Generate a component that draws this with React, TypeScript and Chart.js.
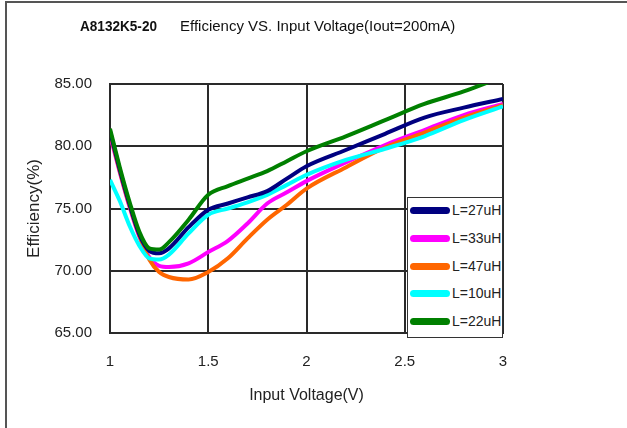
import React, { useEffect, useRef } from "react";
import { Chart, registerables } from "chart.js";

Chart.register(...registerables);

// ---- data ----
const voltages = [1.0, 1.05, 1.1, 1.15, 1.2, 1.25, 1.3, 1.4, 1.5, 1.6, 1.7, 1.8, 1.9, 2.0, 2.2, 2.4, 2.6, 2.8, 3.0];
const eff27uH = [81.2, 78.1, 75.3, 72.9, 71.6, 71.4, 71.8, 73.5, 74.9, 75.4, 75.9, 76.4, 77.4, 78.4, 79.7, 81.0, 82.3, 83.1, 83.8];
const eff33uH = [80.9, 77.9, 75.1, 72.7, 71.1, 70.4, 70.3, 70.6, 71.5, 72.4, 73.8, 75.4, 76.3, 77.2, 78.7, 80.1, 81.3, 82.5, 83.4];
const eff47uH = [81.1, 78.0, 75.2, 72.8, 70.9, 69.9, 69.5, 69.3, 69.9, 71.0, 72.6, 74.1, 75.3, 76.6, 78.3, 79.9, 81.1, 82.3, 83.3];
const eff10uH = [77.3, 75.6, 73.6, 72.0, 71.0, 70.9, 71.3, 73.0, 74.5, 75.0, 75.5, 76.1, 76.9, 77.7, 78.9, 79.8, 80.8, 82.1, 83.2];
const eff22uH = [81.4, 78.3, 75.5, 73.1, 71.8, 71.7, 72.3, 74.1, 76.1, 76.8, 77.4, 78.0, 78.8, 79.6, 80.8, 82.1, 83.4, 84.4, 85.6];

const seriesLabels = ["L=27uH", "L=33uH", "L=47uH", "L=10uH", "L=22uH"];
const seriesValues = [eff27uH, eff33uH, eff47uH, eff10uH, eff22uH];
const seriesColors = ["#000080", "#ff00ff", "#ff6600", "#00ffff", "#008000"];
// drawing order (first = on top)
const drawOrder = [4, 0, 3, 2, 1];

const xTicks = [1, 1.5, 2, 2.5, 3];
const yTicks = [65, 70, 75, 80, 85];

const titleModel = "A8132K5-20";
const titleText = "Efficiency VS. Input Voltage(Iout=200mA)";
const xTitle = "Input Voltage(V)";
const yTitle = "Efficiency(%)";

const FONT = "'Liberation Sans', Arial, sans-serif";

export default function App() {
  const canvasRef = useRef<HTMLCanvasElement | null>(null);

  useEffect(() => {
    const canvas = canvasRef.current;
    if (!canvas) return;
    const datasets = drawOrder.map((idx) => ({
      label: seriesLabels[idx],
      data: voltages.map((v, i) => ({ x: v, y: seriesValues[idx][i] })),
      borderColor: seriesColors[idx],
      backgroundColor: seriesColors[idx],
      borderWidth: 4,
      pointRadius: 0,
      cubicInterpolationMode: "monotone" as const,
      fill: false,
    }));
    const chart = new Chart(canvas, {
      type: "line",
      data: { datasets },
      options: {
        animation: false,
        responsive: false,
        layout: { padding: { left: 0, right: 124, top: 84, bottom: 0 } },
        plugins: {
          legend: { display: false },
          tooltip: { enabled: false },
          title: { display: false },
        },
        scales: {
          x: {
            type: "linear",
            min: 1,
            max: 3,
            afterFit: (s: any) => {
              s.height = 95;
            },
            afterBuildTicks: (s: any) => {
              s.ticks = xTicks.map((v) => ({ value: v }));
            },
            ticks: {
              padding: 20,
              autoSkip: false,
              maxRotation: 0,
              color: "#222",
              font: { family: FONT, size: 15 },
              callback: (v: any) => String(v),
            },
            grid: { color: "#2a2a2a", lineWidth: 2, drawTicks: false },
            border: { display: true, color: "#2a2a2a", width: 2 },
            title: {
              display: true,
              text: xTitle,
              color: "#222",
              font: { family: FONT, size: 16 },
              padding: { top: 0, bottom: 23 },
            },
          },
          y: {
            type: "linear",
            min: 65,
            max: 85,
            afterFit: (s: any) => {
              s.width = 110;
            },
            afterBuildTicks: (s: any) => {
              s.ticks = yTicks.map((v) => ({ value: v }));
            },
            ticks: {
              padding: 18,
              color: "#222",
              font: { family: FONT, size: 15 },
              callback: (v: any) => Number(v).toFixed(2),
            },
            grid: { color: "#2a2a2a", lineWidth: 2, drawTicks: false },
            border: { display: true, color: "#2a2a2a", width: 2 },
            title: {
              display: true,
              text: yTitle,
              color: "#222",
              font: { family: FONT, size: 17 },
              padding: { top: 24, bottom: 0 },
            },
          },
        },
      },
    });
    return () => chart.destroy();
  }, []);

  const legendCenters = [13, 41, 69, 96, 124];

  return (
    <div
      style={{
        position: "absolute",
        left: 0,
        top: 0,
        width: 627,
        height: 428,
        background: "#fff",
        overflow: "hidden",
        fontFamily: FONT,
      }}
    >
      <div
        style={{
          position: "absolute",
          left: 5,
          top: 1,
          width: 640,
          height: 440,
          borderLeft: "2px solid #555",
          borderTop: "2px solid #555",
        }}
      />
      <canvas ref={canvasRef} width={627} height={428} style={{ position: "absolute", left: 0, top: 0, display: "block" }} />
      <div
        style={{
          position: "absolute",
          left: 80,
          top: 18,
          fontSize: 15.5,
          lineHeight: "15.5px",
          fontWeight: "bold",
          color: "#111",
          whiteSpace: "nowrap",
          transform: "scaleX(0.876)",
          transformOrigin: "left center",
        }}
      >
        {titleModel}
      </div>
      <div
        style={{
          position: "absolute",
          left: 180,
          top: 18,
          fontSize: 15,
          lineHeight: "15.5px",
          color: "#111",
          whiteSpace: "nowrap",
        }}
      >
        {titleText}
      </div>
      <div
        style={{
          position: "absolute",
          left: 407,
          top: 197,
          width: 96,
          height: 141,
          boxSizing: "border-box",
          border: "1.5px solid #333",
          background: "#fff",
        }}
      >
        {seriesLabels.map((lab, i) => (
          <React.Fragment key={lab}>
            <div
              style={{
                position: "absolute",
                left: 2,
                top: legendCenters[i] - 4.5,
                width: 40,
                height: 7,
                borderRadius: 3.5,
                background: seriesColors[i],
              }}
            />
            <div
              style={{
                position: "absolute",
                left: 44,
                top: legendCenters[i] - 8,
                fontSize: 14,
                lineHeight: "14px",
                color: "#222",
                whiteSpace: "nowrap",
              }}
            >
              {lab}
            </div>
          </React.Fragment>
        ))}
      </div>
    </div>
  );
}
